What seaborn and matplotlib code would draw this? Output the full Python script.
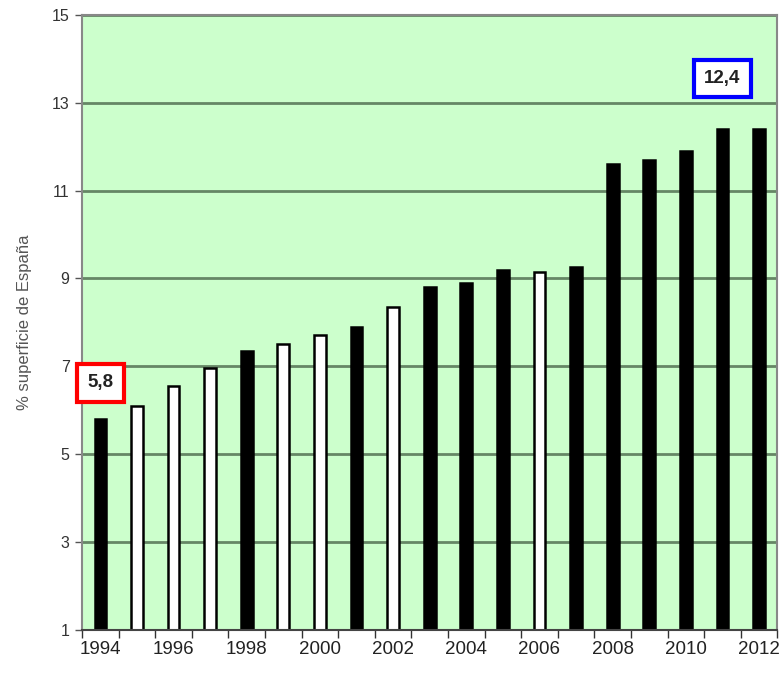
import numpy as np
import pandas as pd
import seaborn as sns
import matplotlib.pyplot as plt
from matplotlib.ticker import FixedLocator

# --- data ---
years = [1994, 1995, 1996, 1997, 1998, 1999, 2000, 2001, 2002, 2003,
         2004, 2005, 2006, 2007, 2008, 2009, 2010, 2011, 2012]
values = [5.8, 6.1, 6.55, 6.95, 7.35, 7.5, 7.7, 7.9, 8.35, 8.8,
          8.9, 9.2, 9.15, 9.25, 11.6, 11.7, 11.9, 12.4, 12.4]
# 'k' = solid black bar, 'w' = white bar with black outline
fills = ['k', 'w', 'w', 'w', 'k', 'w', 'w', 'k', 'w', 'k',
         'k', 'k', 'w', 'k', 'k', 'k', 'k', 'k', 'k']
tick_years = [1994, 1996, 1998, 2000, 2002, 2004, 2006, 2008, 2010, 2012]

df = pd.DataFrame({'year': [str(y) for y in years], 'value': values})

sns.set_style("white")
plt.rcParams['font.family'] = ['Liberation Sans', 'DejaVu Sans']

fig = plt.figure(figsize=(7.82, 6.75), dpi=100)
ax = fig.add_axes([0.105, 0.067, 0.889, 0.911])
ax.set_facecolor('#CCFFCC')

palette = ['black' if f == 'k' else 'white' for f in fills]
sns.barplot(data=df, x='year', y='value', hue='year', palette=palette,
            legend=False, width=0.32, edgecolor='black', linewidth=1.8,
            bottom=0, ax=ax)

# bars start at the axis floor (1)
ax.set_ylim(1, 15)
ax.set_xlim(-0.5, len(years) - 0.5)
ax.set_yticks(range(1, 16, 2))
ax.tick_params(axis='y', labelsize=11.5, labelcolor='#333333', length=5,
               width=1, color='#555555', left=True, direction='out', pad=4)

# x: labels every 2 years, tick marks on category boundaries
ax.set_xticks([years.index(y) for y in tick_years])
ax.set_xticklabels([str(y) for y in tick_years], fontsize=13.5, color='#222222')
ax.tick_params(axis='x', which='major', length=0, pad=8)
ax.xaxis.set_minor_locator(FixedLocator(np.arange(-0.5, len(years), 1)))
ax.tick_params(axis='x', which='minor', length=6, width=1, color='#333333',
               bottom=True, direction='out')

ax.grid(axis='y', color='#5a7a5a', linewidth=2, alpha=0.9)
ax.set_axisbelow(True)

for side in ['left', 'right', 'top']:
    ax.spines[side].set_color('#888888')
    ax.spines[side].set_linewidth(1.5)
ax.spines['bottom'].set_color('#444444')
ax.spines['bottom'].set_linewidth(1.5)

ax.set_xlabel('')
ax.set_ylabel('% superficie de España', fontsize=12, color='#555555', labelpad=14)

# highlighted first and last values
ax.text(years.index(1994), 6.62, '5,8', ha='center', va='center', fontsize=13.5,
        fontweight='bold', color='#222222',
        bbox=dict(boxstyle='square,pad=0.55', fc='white', ec='red', lw=3))
ax.text(years.index(2011), 13.55, '12,4', ha='center', va='center', fontsize=13.5,
        fontweight='bold', color='#222222',
        bbox=dict(boxstyle='square,pad=0.55', fc='white', ec='blue', lw=3))

plt.savefig('out.png', dpi=100)
